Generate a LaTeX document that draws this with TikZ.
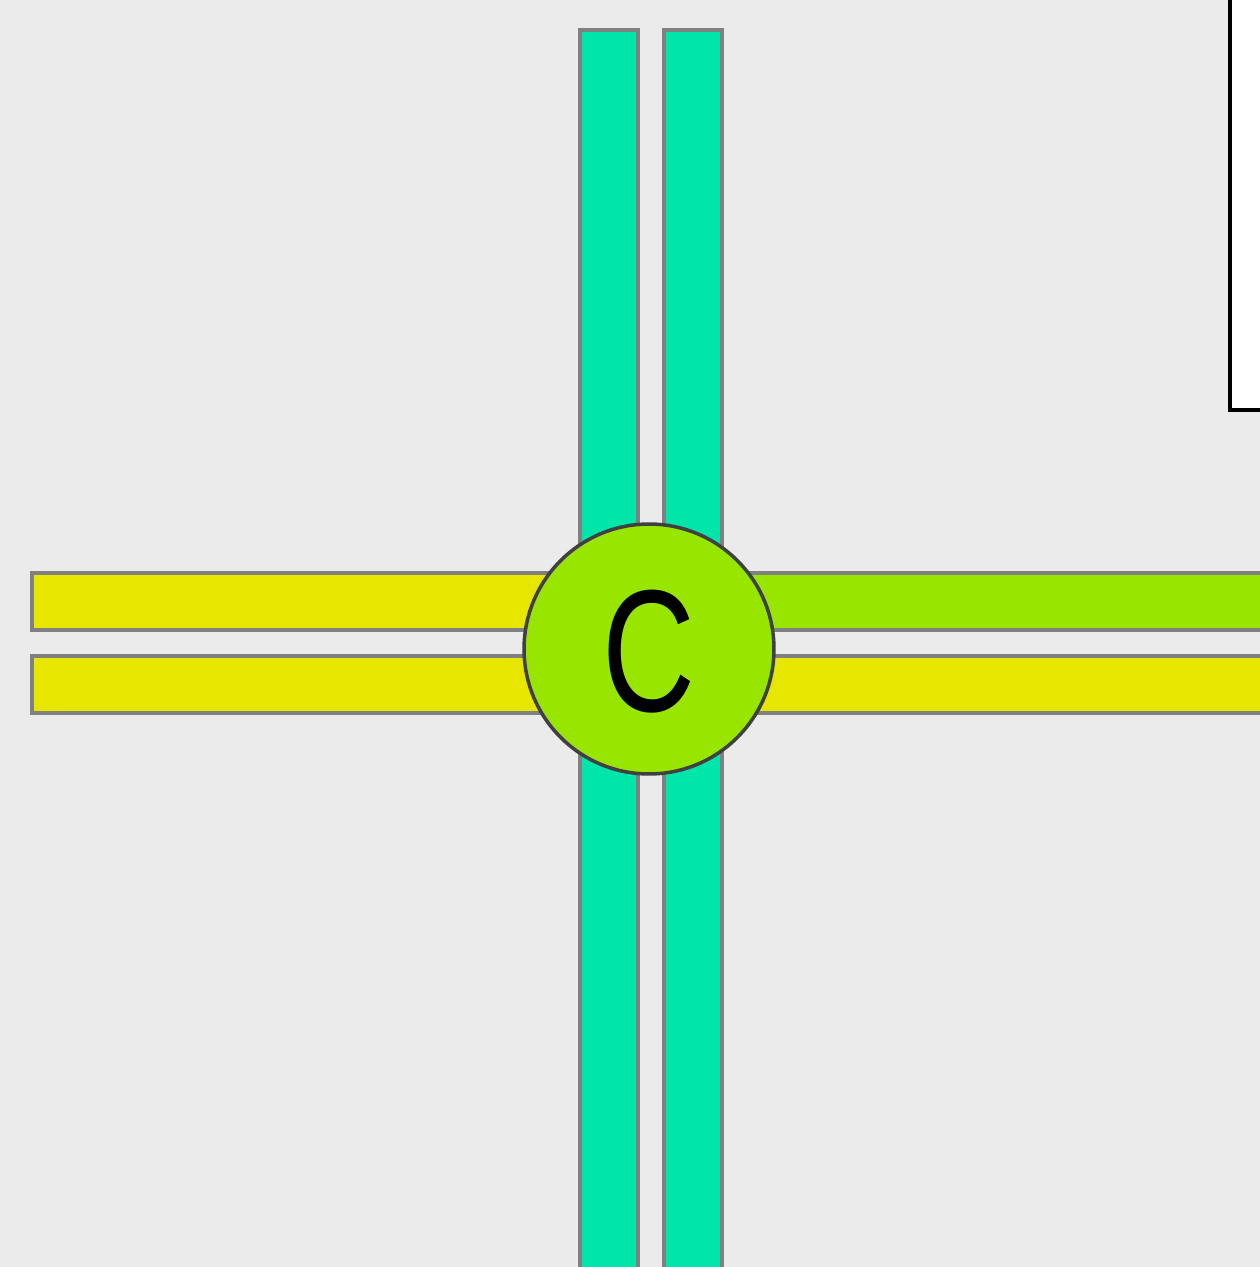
\documentclass[tikz,border=0pt]{standalone}
\usepackage{fontspec}
\setmainfont{Liberation Sans}
\usepackage{tikz}
\usetikzlibrary{positioning}
\definecolor{jbg}{HTML}{EBEBEB}
\definecolor{jteal}{HTML}{00E6AA}
\definecolor{jyellow}{HTML}{E6E600}
\definecolor{jgreen}{HTML}{98E600}
\definecolor{jedge}{HTML}{808080}
\definecolor{jring}{HTML}{404040}
\tikzset{
  rail/.style={draw=jedge,line width=2.1pt},
  railv/.style={rail,fill=jteal},
  railh/.style={rail,fill=jyellow},
  railg/.style={rail,fill=jgreen},
  panel/.style={draw=black,fill=white,line width=2pt},
  hub/.style={circle,draw=jring,fill=jgreen,line width=2pt,minimum size=5cm,inner sep=0pt,font=\fontsize{99}{99}\selectfont},
}
\begin{document}
\begin{tikzpicture}[x=0.02cm,y=-0.02cm]
    \fill[jbg](0,0) rectangle (1260,1267);
    \useasboundingbox (0,0) rectangle (1260,1267);
    \clip (0,0) rectangle (1260,1267);
    % legend panel, top right
    \draw[panel](1230,-20) rectangle (1300,410);
    % tracks
    \draw[railv](580,30) rectangle (638,1300);
    \draw[railv](664,30) rectangle (722,1300);
    \draw[railh](32,573) rectangle (649,630);
    \draw[railh](32,656) rectangle (649,713);
    \draw[railg](649,573) rectangle (1300,630);
    \draw[railh](649,656) rectangle (1300,713);
    % junction
    \node[hub] (hub) at (649,649) {\raisebox{-0.06cm}[\height][\depth]{\scalebox{0.74}[1]{C}}};
\end{tikzpicture}
\end{document}
